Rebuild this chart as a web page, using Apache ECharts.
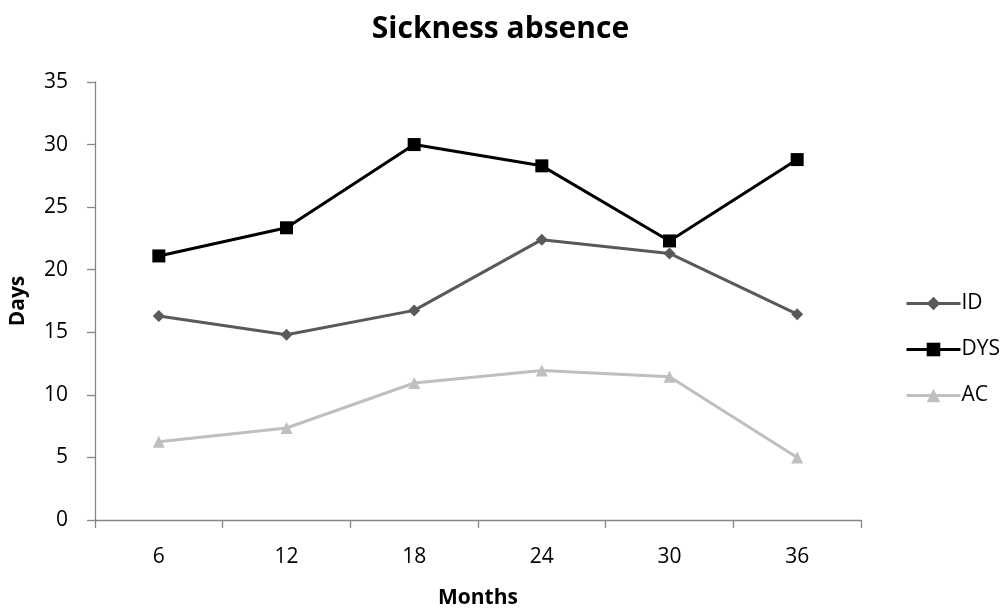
<!DOCTYPE html>
<html>
<head>
<meta charset="utf-8">
<script src="https://cdn.jsdelivr.net/npm/echarts@6/dist/echarts.min.js"></script>
<style>
  html, body { margin: 0; padding: 0; background: #fff; }
  #chart { width: 1001px; height: 608px; }
</style>
</head>
<body>
<div id="chart"></div>
<script>
// Follow-up months and sickness absence days per group
const months = ['6', '12', '18', '24', '30', '36'];
const idDays = [16.3, 14.8, 16.75, 22.4, 21.3, 16.45];
const dysDays = [21.1, 23.35, 30.0, 28.3, 22.3, 28.8];
const acDays = [6.25, 7.35, 10.95, 11.95, 11.45, 5.0];

const font = '"Open Sans", "Liberation Sans", sans-serif';
const axisGrey = '#868686';

const chart = echarts.init(document.getElementById('chart'), null, { renderer: 'canvas' });

chart.setOption({
  backgroundColor: '#ffffff',
  animation: false,
  title: {
    text: 'Sickness absence',
    left: 'center',
    top: 9,
    textStyle: { fontFamily: font, fontSize: 30, fontWeight: 'bold', color: '#000' }
  },
  legend: {
    orient: 'vertical',
    left: 900,
    top: 288,
    itemWidth: 54,
    itemHeight: 17,
    itemGap: 25,
    lineStyle: { width: 3 },
    textStyle: { fontFamily: font, fontSize: 21, color: '#000', padding: [0, 0, 0, -4] },
    data: ['ID', 'DYS', 'AC']
  },
  grid: {
    left: 95, right: 140, top: 82, bottom: 88,
    containLabel: false,
    outerBoundsMode: 'none'
  },
  xAxis: {
    type: 'category',
    data: months,
    boundaryGap: true,
    name: 'Months',
    nameLocation: 'middle',
    nameGap: 68,
    nameTextStyle: { fontFamily: font, fontSize: 21, fontWeight: 'bold', color: '#000' },
    axisLine: { lineStyle: { color: axisGrey, width: 1.3 } },
    axisTick: { show: true, length: 8, lineStyle: { color: axisGrey, width: 1.3 } },
    axisLabel: { fontFamily: font, fontSize: 21, color: '#000', margin: 27 },
    splitLine: { show: false }
  },
  yAxis: {
    type: 'value',
    min: 0,
    max: 35,
    interval: 5,
    name: 'Days',
    nameLocation: 'middle',
    nameGap: 66,
    nameRotate: 90,
    nameTextStyle: { fontFamily: font, fontSize: 21, fontWeight: 'bold', color: '#000' },
    axisLine: { show: true, lineStyle: { color: axisGrey, width: 1.3 } },
    axisTick: { show: true, length: 8, lineStyle: { color: axisGrey, width: 1.3 } },
    axisLabel: { fontFamily: font, fontSize: 21, color: '#000', margin: 27 },
    splitLine: { show: false }
  },
  series: [
    {
      name: 'ID',
      type: 'line',
      data: idDays,
      symbol: 'diamond',
      symbolSize: 12,
      lineStyle: { color: '#595959', width: 3 },
      itemStyle: { color: '#595959' }
    },
    {
      name: 'DYS',
      type: 'line',
      data: dysDays,
      symbol: 'rect',
      symbolSize: 13,
      lineStyle: { color: '#000000', width: 3 },
      itemStyle: { color: '#000000' }
    },
    {
      name: 'AC',
      type: 'line',
      data: acDays,
      symbol: 'triangle',
      symbolSize: 12,
      lineStyle: { color: '#bfbfbf', width: 3 },
      itemStyle: { color: '#bfbfbf' }
    }
  ]
});
</script>
</body>
</html>
